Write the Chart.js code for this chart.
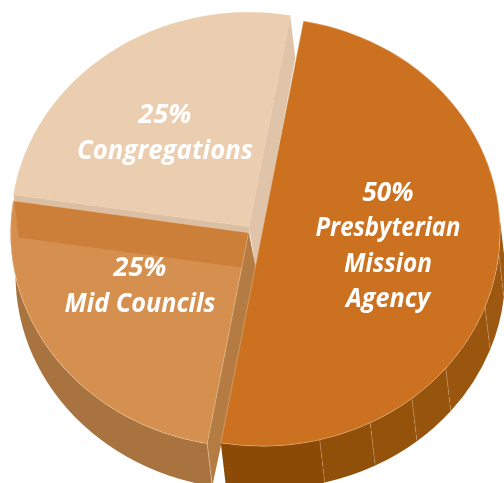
<!DOCTYPE html>
<html>
<head>
<meta charset="utf-8">
<title>Funding split</title>
<script src="https://cdn.jsdelivr.net/npm/chart.js@4"></script>
<style>
  html, body { margin: 0; padding: 0; background: #fff; overflow: hidden; }
  canvas { display: block; }
</style>
</head>
<body>
<canvas id="myChart" width="504" height="483"></canvas>
<script>
// Slices clockwise from the top right
const categories = ['Presbyterian Mission Agency', 'Mid Councils', 'Congregations'];
const shares = [50, 24.6, 25.4];   // as drawn, the printed labels are rounded
const percentLabels = ['50%', '25%', '25%'];
const labelLines = [['Presbyterian', 'Mission', 'Agency'], ['Mid Councils'], ['Congregations']];

// Look of the pie
const topColors = ['#cb7120', 'rgba(198,105,18,0.74)', '#ebcdb0'];
const sliceOffsets = [0, 17, 21];   // chart.js divides these by 4
const mainShift = { x: 10.15, y: 1.8 };   // half circle is moved by hand, its offset would also grow the radius
const pieRadius = 238;
const squash = 0.9;
const wallShift = { x: 5, y: 47.5 };
const pieCentre = { x: 252, y: 230.4 };
// centre of each text block on screen, and the width every line should fill
const labelAt = [{ x: 388, y: 246.5 }, { x: 140, y: 286.5 }, { x: 165, y: 133.5 }];
const lineWidths = [[51, 145, 88, 84], [54, 151], [54, 176]];
const lineHeight = 35.5;

// Orange wall is made of flat facets, angles in degrees clockwise from the top
const facetEdges = [190, 166, 153, 141, 129.5, 110.5, 96, 85];
const facetColors = ['#8b4a05', '#91500a', '#94520b', '#97540d', '#9a560e', '#9c5810', '#9e5a12'];

function rad(deg) {
    return (deg - 90) * Math.PI / 180;
}

// Centre of a slice after its explode offset is applied
function arcCentre(arc) {
    const mid = (arc.startAngle + arc.endAngle) / 2;
    const off = arc.options.offset / 4;
    return { x: arc.x + Math.cos(mid) * off, y: arc.y + Math.sin(mid) * off };
}

function fillOuterWall(ctx, c, r, from, to, color) {
    ctx.beginPath();
    ctx.arc(c.x, c.y, r, from, to, to < from);
    ctx.arc(c.x + wallShift.x, c.y + wallShift.y, r, to, from, to > from);
    ctx.closePath();
    ctx.fillStyle = color;
    ctx.fill();
}

// extraX pushes the inner end of the wall sideways so it closes up against the next slice
function fillEdgeWall(ctx, c, r, angle, color, extraX) {
    const ox = Math.cos(angle) * r, oy = Math.sin(angle) * r;
    ctx.beginPath();
    ctx.moveTo(c.x, c.y);
    ctx.lineTo(c.x + ox, c.y + oy);
    ctx.lineTo(c.x + ox + wallShift.x, c.y + oy + wallShift.y);
    ctx.lineTo(c.x + wallShift.x + (extraX || 0), c.y + wallShift.y);
    ctx.closePath();
    ctx.fillStyle = color;
    ctx.fill();
}

function edgeLine(ctx, c, r, angle, color, dash) {
    const ox = Math.cos(angle) * r, oy = Math.sin(angle) * r;
    ctx.beginPath();
    ctx.moveTo(c.x + ox, c.y + oy);
    ctx.lineTo(c.x + ox + wallShift.x, c.y + oy + wallShift.y);
    ctx.strokeStyle = color;
    ctx.lineWidth = 0.7;
    ctx.setLineDash(dash || []);
    ctx.stroke();
    ctx.setLineDash([]);
}

const pie3d = {
    id: 'pie3d',
    afterDatasetsUpdate(chart) {
        const main = chart.getDatasetMeta(0).data[0];
        main.x += mainShift.x;
        main.y += mainShift.y;
    },
    beforeDatasetsDraw(chart) {
        const ctx = chart.ctx;
        const arcs = chart.getDatasetMeta(0).data;
        const area = chart.chartArea;
        const midX = (area.left + area.right) / 2;
        const midY = (area.top + area.bottom) / 2;

        ctx.save();
        ctx.translate(pieCentre.x, pieCentre.y);
        ctx.scale(1, squash);
        ctx.translate(-midX, -midY);

        // Mid Councils outer wall first, the see-through top goes over the Congregations walls
        const mid = arcs[1], cMid = arcCentre(mid);
        fillOuterWall(ctx, cMid, pieRadius, mid.startAngle, mid.endAngle, '#a9733f');

        // own wall must not show through the top
        ctx.beginPath();
        ctx.moveTo(cMid.x, cMid.y);
        ctx.arc(cMid.x, cMid.y, pieRadius, mid.startAngle, mid.endAngle);
        ctx.closePath();
        ctx.fillStyle = '#fff';
        ctx.fill();

        const cong = arcs[2], cCong = arcCentre(cong);
        fillEdgeWall(ctx, cCong, pieRadius, cong.startAngle, '#dbbfa5');
        fillEdgeWall(ctx, cCong, pieRadius, cong.endAngle, '#dfc4aa', 2);

        fillEdgeWall(ctx, cMid, pieRadius, mid.startAngle, '#b47c43', 4);
        edgeLine(ctx, cMid, pieRadius, mid.startAngle, 'rgba(240,210,180,0.7)');

        // Orange facets
        const main = arcs[0], cMain = arcCentre(main);
        facetColors.forEach(function (color, i) {
            fillOuterWall(ctx, cMain, pieRadius, rad(facetEdges[i]), rad(facetEdges[i + 1]), color);
        });
        for (let i = 1; i < facetEdges.length - 1; i++) {
            edgeLine(ctx, cMain, pieRadius, rad(facetEdges[i]), 'rgba(225,180,130,0.55)', [6, 2]);
        }
    },
    afterDatasetsDraw(chart) {
        const ctx = chart.ctx;
        ctx.restore();

        // Text
        ctx.save();
        ctx.fillStyle = '#fff';
        ctx.textAlign = 'center';
        ctx.textBaseline = 'middle';
        ctx.font = 'italic bold 27px "Open Sans"';
        labelLines.forEach(function (lines, i) {
            const all = [percentLabels[i]].concat(lines);
            all.forEach(function (line, j) {
                const y = labelAt[i].y + (j - (all.length - 1) / 2) * lineHeight;
                ctx.fillText(line, labelAt[i].x, y, lineWidths[i][j]);
            });
        });
        ctx.restore();
    }
};

new Chart(document.getElementById('myChart').getContext('2d'), {
    type: 'pie',
    data: {
        labels: categories,
        datasets: [{
            data: shares,
            backgroundColor: topColors,
            borderColor: 'rgba(240,205,170,0.6)',
            borderWidth: 0.7,
            offset: sliceOffsets,
            clip: false
        }]
    },
    options: {
        responsive: false,
        animation: false,
        rotation: 10,
        radius: pieRadius,
        layout: { padding: 0 },
        plugins: { legend: { display: false }, tooltip: { enabled: false } }
    },
    plugins: [pie3d]
});
</script>
</body>
</html>
